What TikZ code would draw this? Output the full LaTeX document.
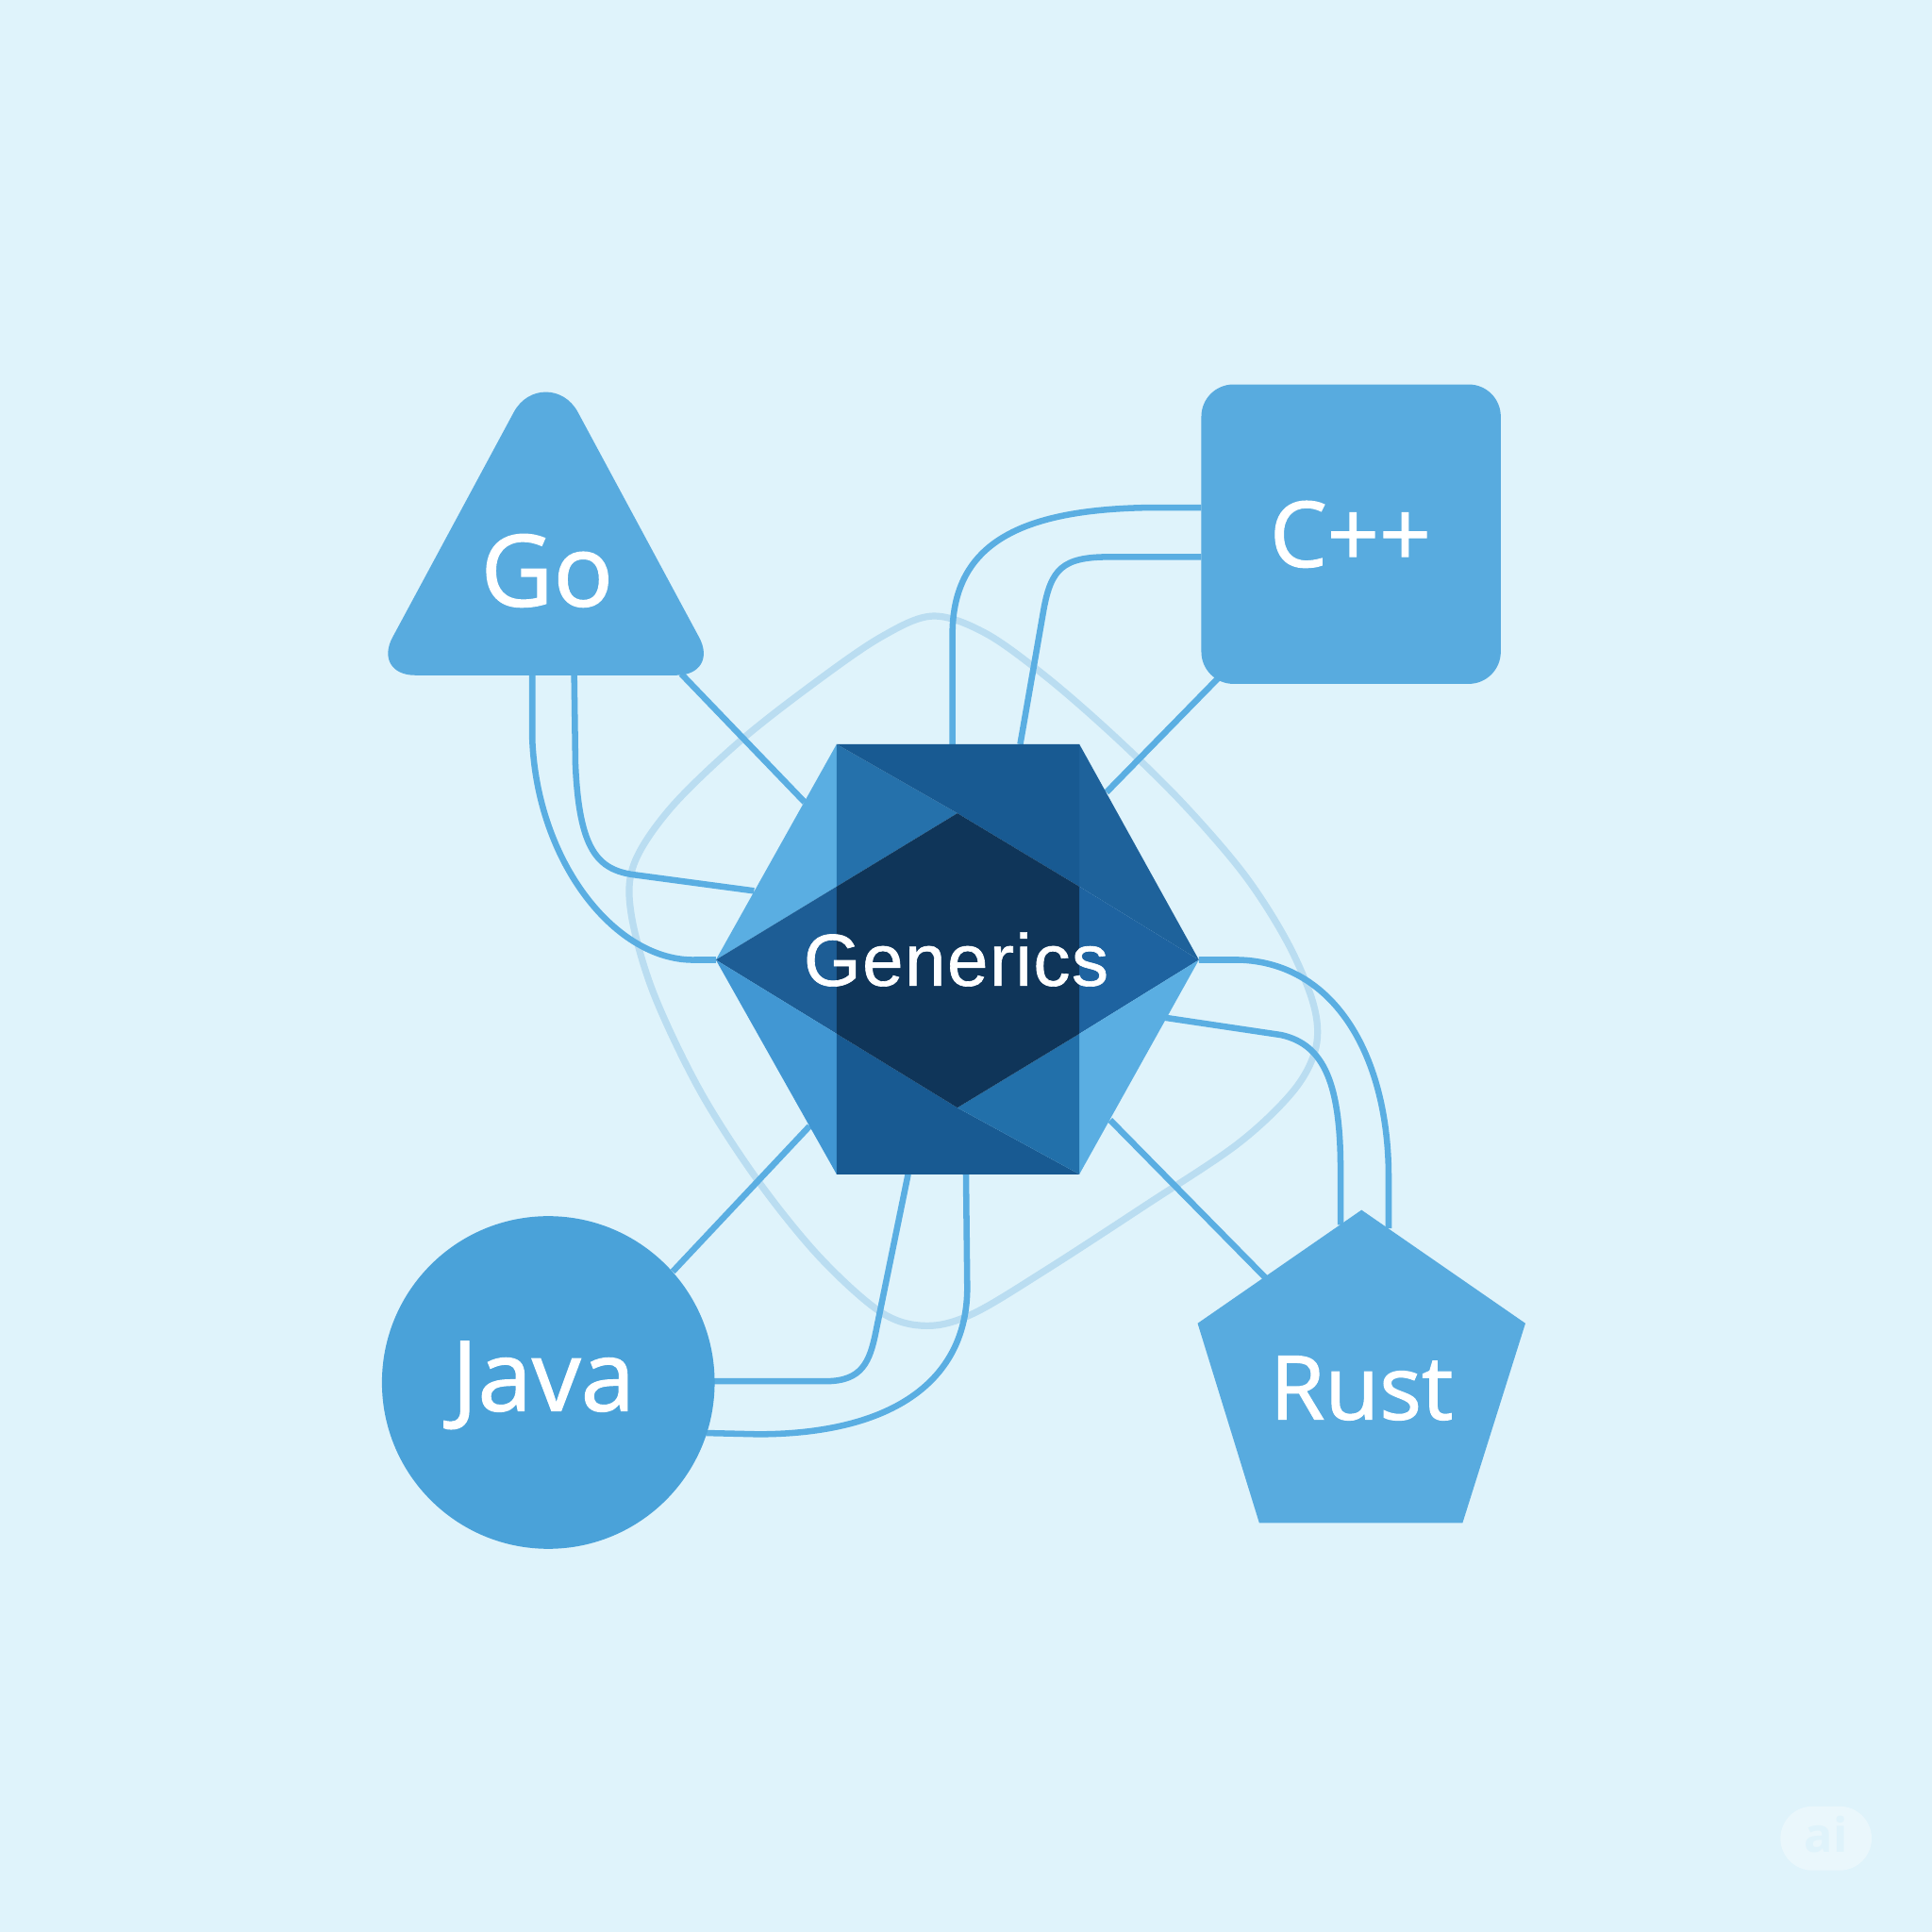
\documentclass[tikz,border=0pt]{standalone}
\usepackage{fontspec}
\setmainfont{Open Sans}
\newfontfamily\lblfont{Open Sans}[FakeBold=1.2]
\newfontfamily\genfont{Liberation Sans}[FakeBold=0.8,LetterSpace=2]
\definecolor{bgc}{HTML}{DFF3FB}
\definecolor{shapec}{HTML}{58ABDF}
\definecolor{javac}{HTML}{4AA2D9}
\definecolor{connc}{HTML}{5AAEE2}
\definecolor{loopc}{HTML}{BADDF1}
\definecolor{hlight}{HTML}{5AAEE2}
\definecolor{hlight2}{HTML}{4197D3}
\definecolor{hmid}{HTML}{2571AB}
\definecolor{hmid2}{HTML}{2270AA}
\definecolor{hdarkm}{HTML}{185A92}
\definecolor{hsideL}{HTML}{1D5D95}
\definecolor{hsideR}{HTML}{1E63A0}
\definecolor{hupR}{HTML}{1E629B}
\definecolor{hcore}{HTML}{0F3559}
\begin{document}
\begin{tikzpicture}[x=0.1mm,y=-0.1mm,
  conn/.style={draw=connc,line width=0.5mm},
  faintloop/.style={draw=loopc,line width=0.55mm},
  lbl/.style={text=white,inner sep=0pt,anchor=base}]
\useasboundingbox (0,0) rectangle (1568,1568);
\fill[bgc] (0,0) rectangle (1568,1568);

% anchor coordinates
\coordinate (hL) at (581,779);
\coordinate (hTL) at (679,604);
\coordinate (hTR) at (876,604);
\coordinate (hR) at (973,779);
\coordinate (hBR) at (876,953);
\coordinate (hBL) at (679,953);
\coordinate (dT) at (777,660);
\coordinate (dB) at (777,899);
\coordinate (LU) at (679,719.5);
\coordinate (LD) at (679,839);
\coordinate (RU) at (876,719.5);
\coordinate (RD) at (876,839);

\coordinate (goA) at (432,548);
\coordinate (goB) at (466,548);
\coordinate (goC) at (553,547);
\coordinate (hGoB) at (612,723);
\coordinate (hGoC) at (653,651);

\coordinate (cpA) at (975,412);
\coordinate (cpB) at (975,452);
\coordinate (cpC) at (990,549);
\coordinate (hCpA) at (773,604);
\coordinate (hCpB) at (828,604);
\coordinate (hCpC) at (898,643);

\coordinate (jvA) at (578,1121);
\coordinate (jvB) at (573,1163);
\coordinate (jvC) at (546,1032);
\coordinate (hJvA) at (737,953);
\coordinate (hJvB) at (784,953);
\coordinate (hJvC) at (657,914);

\coordinate (rsA) at (1127,997);
\coordinate (rsB) at (1088,994);
\coordinate (rsC) at (1027,1037);
\coordinate (hRsB) at (946,826);
\coordinate (hRsC) at (901,909);

% faint loop
\draw[faintloop] plot[smooth cycle,tension=0.55] coordinates {
 (757,500) (800,514) (850,550) (905,598) (960,652) (1010,710)
 (1045,765) (1066,815) (1068,850) (1050,885) (1005,928) (930,978)
 (850,1030) (790,1066) (752,1076) (715,1065) (665,1020) (615,958)
 (568,885) (530,805) (512,740) (515,700) (545,655) (600,602)
 (660,555) (715,517)};

% connectors
\draw[conn] (goC) -- (hGoC);
\draw[conn] (cpC) -- (hCpC);
\draw[conn] (jvC) -- (hJvC);
\draw[conn] (rsC) -- (hRsC);

\draw[conn] (goA) -- (432,600) .. controls (436,700) and (500,781) .. (565,779) -- (hL);
\draw[conn] (goB) -- (467,620) .. controls (470,690) and (485,706) .. (515,710) -- (hGoB);

\draw[conn] (cpA) -- (930,412) .. controls (830,414) and (773,440) .. (773,515) -- (hCpA);
\draw[conn] (cpB) -- (900,452) .. controls (862,452) and (853,462) .. (847,495) -- (hCpB);

\draw[conn] (jvA) -- (670,1121) .. controls (700,1121) and (706,1105) .. (711,1080) -- (hJvA);
\draw[conn] (jvB) -- (615,1164) .. controls (725,1164) and (785,1120) .. (785,1045) -- (hJvB);

\draw[conn] (hR) -- (1005,779) .. controls (1085,781) and (1127,860) .. (1127,955) -- (rsA);
\draw[conn] (hRsB) -- (1040,840) .. controls (1075,848) and (1088,880) .. (1088,950) -- (rsB);

% Go triangle (rounded corners drawn explicitly)
\fill[shapec] (417,334.5) .. controls (428.7,312.7) and (457.3,312.7) .. (469,334.5)
  -- (567.4,517.2) .. controls (576.5,534.1) and (568.3,548) .. (549,548)
  -- (337,548) .. controls (317.8,548) and (309.5,534.1) .. (318.6,517.2) -- cycle;
% C++ box
\fill[shapec,rounded corners=2.6mm] (975,312) rectangle (1218,555);
% Java circle
\fill[javac] (445,1122) circle[radius=135];
% Rust pentagon
\fill[shapec] (1105,982) -- (1238,1074) -- (1187,1236) -- (1022,1236) -- (972,1074) -- cycle;

% hexagon facets
\fill[hlight] (hTL) -- (hL) -- (LU) -- cycle;
\fill[hsideL] (hL) -- (LU) -- (LD) -- cycle;
\fill[hlight2] (hL) -- (LD) -- (hBL) -- cycle;
\fill[hupR] (hTR) -- (hR) -- (RU) -- cycle;
\fill[hsideR] (hR) -- (RU) -- (RD) -- cycle;
\fill[hlight] (hR) -- (RD) -- (hBR) -- cycle;
\fill[hmid] (hTL) -- (dT) -- (LU) -- cycle;
\fill[hdarkm] (hTL) -- (hTR) -- (RU) -- (dT) -- cycle;
\fill[hdarkm] (LD) -- (dB) -- (hBR) -- (hBL) -- cycle;
\fill[hmid2] (dB) -- (RD) -- (hBR) -- cycle;
\fill[hcore] (LU) -- (dT) -- (RU) -- (RD) -- (dB) -- (LD) -- cycle;

% labels
\node[lbl,font=\lblfont\fontsize{23}{27}\selectfont] (go) at (444,492) {Go};
\node[lbl,font=\lblfont\fontsize{21}{25}\selectfont] (cpp) at (1096,460) {C++};
\node[lbl,font=\lblfont\fontsize{22.5}{27}\selectfont] (java) at (441,1145) {Java};
\node[lbl,font=\lblfont\fontsize{20.5}{25}\selectfont] (rust) at (1105,1152) {Rust};
\node[lbl,font=\genfont\fontsize{17}{21}\selectfont] (gen) at (776,800) {Generics};

% watermark
\fill[white,opacity=0.35,rounded corners=2.6mm] (1445,1466) rectangle (1519,1518);
\node[text=bgc,inner sep=0pt,anchor=base,font=\fontsize{11}{13}\selectfont\bfseries] (ai) at (1482,1503) {ai};
\end{tikzpicture}
\end{document}
